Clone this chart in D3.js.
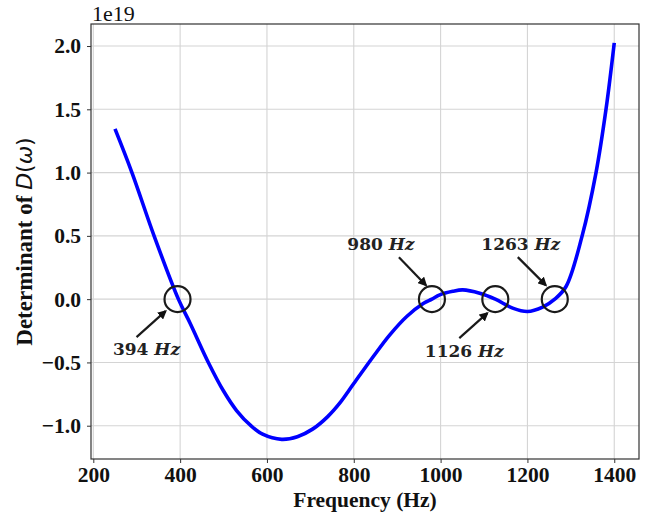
<!DOCTYPE html>
<html>
<head>
<meta charset="utf-8">
<script src="https://cdn.jsdelivr.net/npm/d3@7"></script>
<style>
  html, body { margin: 0; padding: 0; background: #fff; }
  svg { display: block; }
</style>
</head>
<body>
<script>
// Determinant of D(ω) across the frequency sweep (values in units of 1e19)
const frequency = [250, 289, 340, 396, 423, 465, 500, 530, 563, 590, 634, 670, 706, 740, 768, 800, 845, 883, 922, 960, 980, 998, 1028, 1051, 1090, 1126, 1166, 1200, 1235, 1263, 1289, 1326, 1358, 1381, 1400];
const determinant = [1.345, 1.0, 0.5, 0.0, -0.19, -0.5, -0.726, -0.88, -1.0, -1.067, -1.108, -1.087, -1.025, -0.928, -0.82, -0.667, -0.453, -0.282, -0.137, -0.035, 0.0, 0.034, 0.062, 0.073, 0.047, 0.0, -0.071, -0.098, -0.063, 0.0, 0.1, 0.5, 1.0, 1.5, 2.025];

// Roots of the determinant, marked on the curve
const rootFrequencies = [394, 980, 1126, 1263];
const rootLabels = ["394", "980", "1126", "1263"];

// Tick values
const xTicks = [200, 400, 600, 800, 1000, 1200, 1400];
const yTicks = [-1.0, -0.5, 0.0, 0.5, 1.0, 1.5, 2.0];

const W = 654, H = 513;
const svg = d3.select("body").append("svg").attr("width", W).attr("height", H);

const x = d3.scaleLinear().domain([194.7, 1457]).range([91, 639]);
const y = d3.scaleLinear().domain([-1.263, 2.174]).range([459, 24]);

const serif = "'Liberation Serif', 'Times New Roman', serif";
const axisColor = "#333";

// grid
const grid = svg.append("g");
grid.selectAll("line.gx").data(xTicks).join("line")
  .attr("x1", d => x(d)).attr("x2", d => x(d))
  .attr("y1", y.range()[1]).attr("y2", y.range()[0])
  .attr("stroke", "#d4d4d4").attr("stroke-width", 1.1);
grid.selectAll("line.gy").data(yTicks).join("line")
  .attr("y1", d => y(d)).attr("y2", d => y(d))
  .attr("x1", x.range()[0]).attr("x2", x.range()[1])
  .attr("stroke", "#d4d4d4").attr("stroke-width", 1.1);

// axes
const fmtY = v => (v < 0 ? "\u2212" : "") + Math.abs(v).toFixed(1);
const xAxis = svg.append("g").attr("transform", `translate(0,${y.range()[0]})`)
  .call(d3.axisBottom(x).tickValues(xTicks).tickSize(4).tickPadding(4).tickFormat(d3.format("d")));
const yAxis = svg.append("g").attr("transform", `translate(${x.range()[0]},0)`)
  .call(d3.axisLeft(y).tickValues(yTicks).tickSize(4).tickPadding(6).tickFormat(fmtY));
[xAxis, yAxis].forEach(g => {
  g.select(".domain").remove();
  g.selectAll(".tick line").attr("stroke", axisColor).attr("stroke-width", 1);
  g.selectAll(".tick text").attr("font-family", serif).attr("font-weight", "bold")
    .attr("font-size", 21.5).attr("fill", "#111");
});

// frame
svg.append("rect")
  .attr("x", x.range()[0]).attr("y", y.range()[1])
  .attr("width", x.range()[1] - x.range()[0]).attr("height", y.range()[0] - y.range()[1])
  .attr("fill", "none").attr("stroke", axisColor).attr("stroke-width", 1.2);

// curve
const pts = frequency.map((f, i) => [f, determinant[i]]);
svg.append("path")
  .datum(pts)
  .attr("fill", "none")
  .attr("stroke", "#0000ff")
  .attr("stroke-width", 3.6)
  .attr("stroke-linejoin", "round")
  .attr("stroke-linecap", "butt")
  .attr("d", d3.line().x(d => x(d[0])).y(d => y(d[1])).curve(d3.curveCatmullRom.alpha(0.5)));

// root callouts: circle, arrow and label
const defs = svg.append("defs");
defs.append("marker")
  .attr("id", "head").attr("viewBox", "0 0 10 10")
  .attr("refX", 8).attr("refY", 5)
  .attr("markerWidth", 4.2).attr("markerHeight", 4.2)
  .attr("orient", "auto")
  .append("path").attr("d", "M0,0 L10,5 L0,10 Z").attr("fill", "#111");

// offsets from each root position: arrow tail, arrow head, label anchor
const calloutLayout = [
  { tail: [-41, 38], head: [-12, 12], label: [-31, 56] },
  { tail: [-33, -42], head: [-6, -14], label: [-51, -49] },
  { tail: [-36, 39], head: [-8, 14], label: [-31, 58] },
  { tail: [-37, -42], head: [-9, -14], label: [-34, -49] }
];

const callouts = svg.append("g");
rootFrequencies.forEach((f, i) => {
  const cx = x(f), cy = y(0), L = calloutLayout[i];
  callouts.append("circle")
    .attr("cx", cx).attr("cy", cy).attr("r", 13)
    .attr("fill", "none").attr("stroke", "#1a1a1a").attr("stroke-width", 2.2);
  callouts.append("line")
    .attr("x1", cx + L.tail[0]).attr("y1", cy + L.tail[1])
    .attr("x2", cx + L.head[0]).attr("y2", cy + L.head[1])
    .attr("stroke", "#1a1a1a").attr("stroke-width", 2.2)
    .attr("marker-end", "url(#head)");
  const t = callouts.append("text")
    .attr("x", cx + L.label[0]).attr("y", cy + L.label[1])
    .attr("text-anchor", "middle")
    .attr("font-family", "'DejaVu Serif', serif").attr("font-weight", "bold")
    .attr("font-size", 17).attr("fill", "#222");
  t.append("tspan").text(rootLabels[i] + " ");
  t.append("tspan").attr("font-style", "italic").text("Hz");
});

// axis titles
svg.append("text")
  .attr("x", (x.range()[0] + x.range()[1]) / 2).attr("y", 507)
  .attr("text-anchor", "middle")
  .attr("font-family", serif).attr("font-weight", "bold").attr("font-size", 21.5).attr("fill", "#111")
  .text("Frequency (Hz)");

const yt = svg.append("text")
  .attr("transform", `translate(32,${(y.range()[0] + y.range()[1]) / 2}) rotate(-90)`)
  .attr("text-anchor", "middle")
  .attr("font-family", serif).attr("font-size", 23).attr("fill", "#111");
yt.append("tspan").attr("font-weight", "bold").text("Determinant of ");
yt.append("tspan").attr("font-family", "'DejaVu Sans', sans-serif").attr("font-style", "italic").attr("font-size", 22).text("D");
yt.append("tspan").attr("font-family", "'DejaVu Sans', sans-serif").attr("font-size", 22).text("(");
yt.append("tspan").attr("font-family", "'DejaVu Sans', sans-serif").attr("font-style", "italic").attr("font-size", 22).text("\u03C9");
yt.append("tspan").attr("font-family", "'DejaVu Sans', sans-serif").attr("font-size", 22).text(")");

// scale multiplier
svg.append("text")
  .attr("x", x.range()[0] + 1).attr("y", 21)
  .attr("font-family", serif).attr("font-size", 22).attr("fill", "#111")
  .text("1e19");
</script>
</body>
</html>
